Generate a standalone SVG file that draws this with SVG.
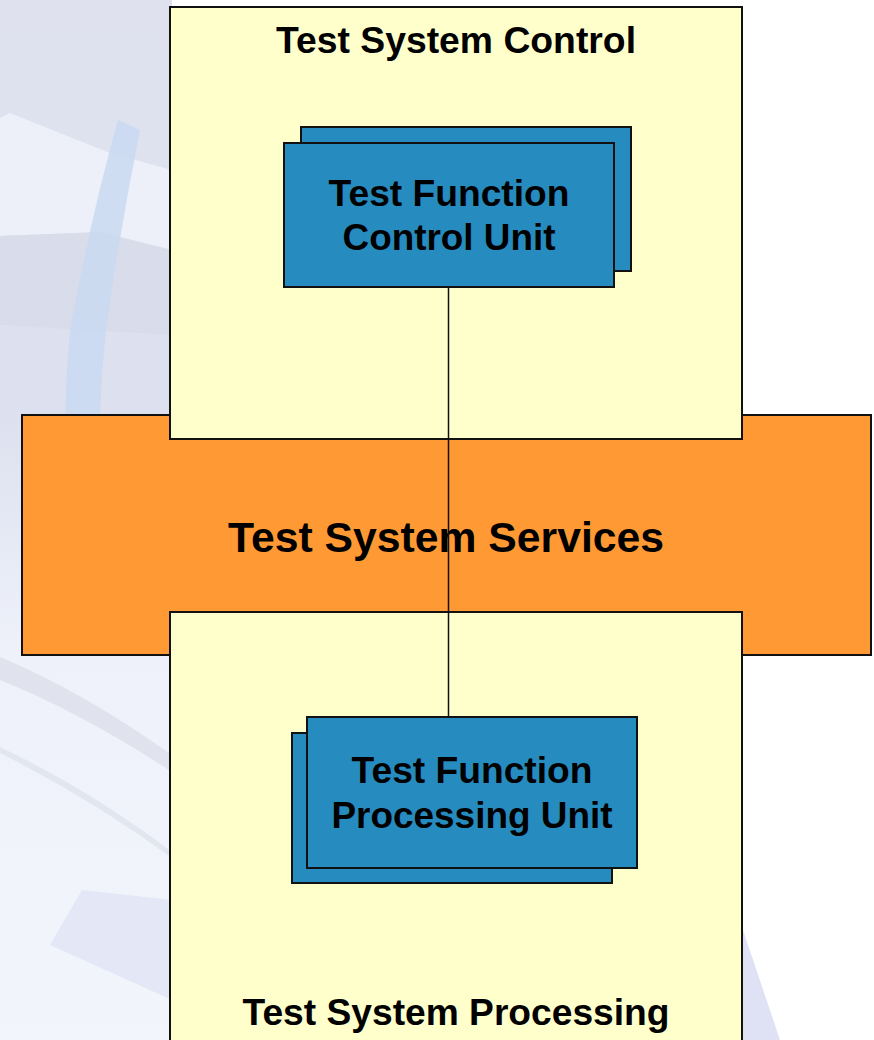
<svg xmlns="http://www.w3.org/2000/svg" width="874" height="1040" viewBox="0 0 874 1040">
<defs>
<linearGradient id="bgL" x1="0" y1="0" x2="0" y2="1">
<stop offset="0" stop-color="#dfe2ee"/>
<stop offset="0.4" stop-color="#dde1ef"/>
<stop offset="0.62" stop-color="#eef1fa"/>
<stop offset="1" stop-color="#f3f5fc"/>
</linearGradient>
<style>
.sys{fill:#ffffcc;stroke:#111;stroke-width:2}
.svc{fill:#ff9933;stroke:#111;stroke-width:2}
.unit{fill:#268bbf;stroke:#111;stroke-width:2}
.lbl{font-family:"Liberation Sans",Arial,sans-serif;font-weight:bold;fill:#000;text-anchor:middle}
.conn{stroke:#111;stroke-width:1.5;fill:none}
</style>
</defs>
<g id="background">
<rect x="0" y="0" width="874" height="1040" fill="#ffffff"/>
<rect x="0" y="0" width="172" height="1040" fill="url(#bgL)"/>
<path d="M10 113 L110 153 L172 170 L172 250 L100 232 L0 236 L0 118 Z" fill="#f0f2fa" opacity="0.85"/>
<path d="M0 236 L100 232 L172 250 L172 335 L0 325 Z" fill="#d6d9e6" opacity="0.6"/>
<path d="M118 120 Q90 220 70 330 Q64 400 66 430 L100 430 Q100 390 106 330 Q120 230 140 130 Z" fill="#c9d9f1" opacity="0.85"/>
<path d="M0 657 Q80 690 172 755 L172 772 Q80 712 0 680 Z" fill="#dadde8" opacity="0.7"/>
<path d="M0 747 Q90 790 172 852 L172 858 Q90 798 0 753 Z" fill="#dfe2ec" opacity="0.8"/>
<path d="M82 890 L172 900 L172 1000 L50 945 Z" fill="#e2e5f4" opacity="0.9"/>
<path d="M743 930 L780 1040 L743 1040 Z" fill="#dfe2f5"/>
</g>
<g id="services">
<rect class="svc" x="22" y="415" width="849" height="240"/>
</g>
<g id="system-control">
<rect class="sys" x="170" y="7" width="572" height="432"/>
<text class="lbl" x="456" y="53" font-size="36" textLength="360" lengthAdjust="spacingAndGlyphs">Test System Control</text>
</g>
<g id="system-processing">
<rect class="sys" x="170" y="612" width="572" height="440"/>
<text class="lbl" x="456" y="1025" font-size="36" textLength="427" lengthAdjust="spacingAndGlyphs">Test System Processing</text>
</g>
<g id="services-label">
<text class="lbl" x="446" y="552" font-size="42" textLength="436" lengthAdjust="spacingAndGlyphs">Test System Services</text>
</g>
<g id="control-unit">
<rect class="unit" x="301" y="127" width="330" height="144"/>
<rect class="unit" x="284" y="143" width="330" height="144"/>
<text class="lbl" x="449" y="206" font-size="36" textLength="241" lengthAdjust="spacingAndGlyphs">Test Function</text>
<text class="lbl" x="449" y="250" font-size="36" textLength="213" lengthAdjust="spacingAndGlyphs">Control Unit</text>
</g>
<g id="processing-unit">
<rect class="unit" x="292" y="733" width="320" height="150"/>
<rect class="unit" x="307" y="717" width="330" height="151"/>
<text class="lbl" x="472" y="783" font-size="36" textLength="241" lengthAdjust="spacingAndGlyphs">Test Function</text>
<text class="lbl" x="472" y="828" font-size="36" textLength="281" lengthAdjust="spacingAndGlyphs">Processing Unit</text>
</g>
<g id="connectors">
<line class="conn" x1="448.5" y1="287" x2="448.5" y2="717"/>
</g>
</svg>
